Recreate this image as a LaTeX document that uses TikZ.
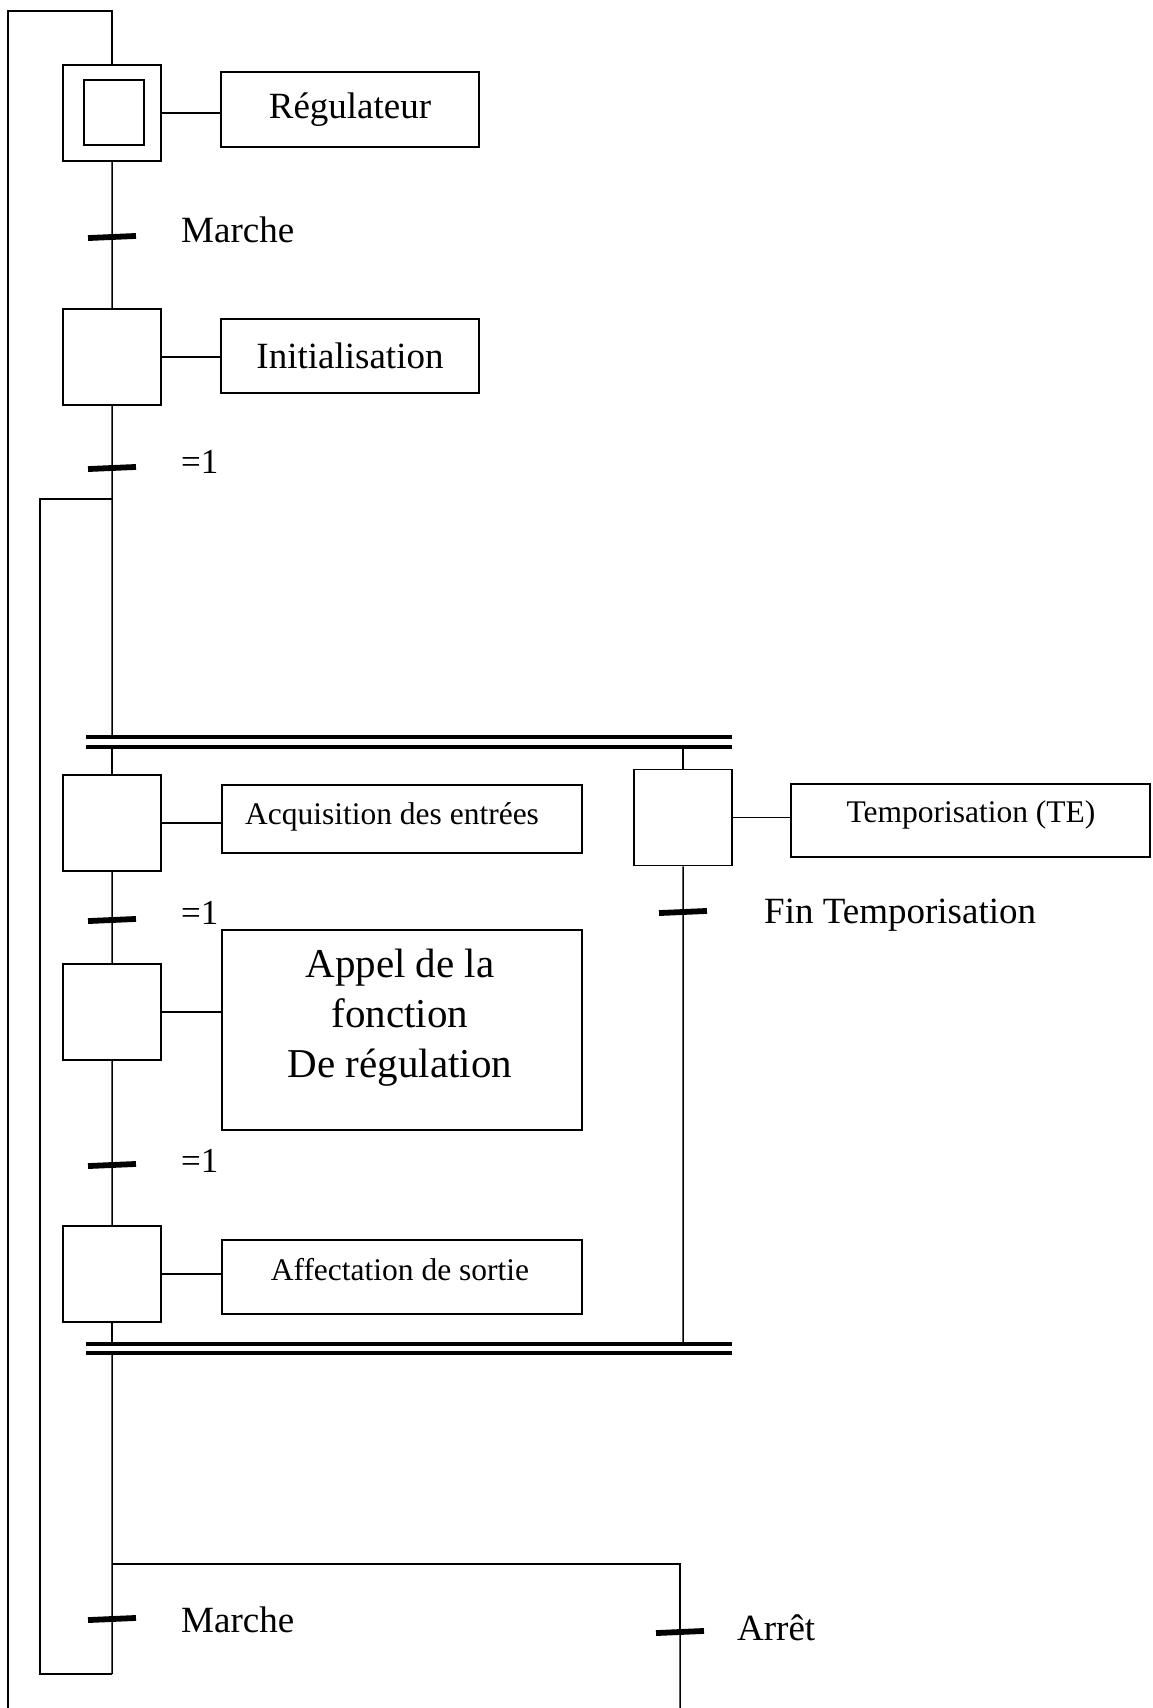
\documentclass[tikz,border=0pt]{standalone}
\usepackage{fontspec}
\setmainfont{Liberation Serif}
\begin{document}
\begin{tikzpicture}[x=1pt,y=-1pt,
  flow/.style={line width=1.5pt},
  stepbox/.style={draw, line width=1.8pt, minimum width=98pt, minimum height=96pt, inner sep=0pt},
  actbox/.style={draw, line width=1.8pt, inner sep=0pt},
  tickmark/.style={fill=black, minimum width=48pt, minimum height=5.8pt, inner sep=0pt, rotate=2.5},
  bar/.style={line width=4pt},
  lblbig/.style={font=\fontsize{37}{44}\selectfont, inner sep=0pt},
  lbleq/.style={font=\fontsize{35}{42}\selectfont, inner sep=0pt},
  lblmid/.style={font=\fontsize{31.5}{38}\selectfont, inner sep=0pt},
  lblappel/.style={font=\fontsize{41}{50}\selectfont, inner sep=0pt, align=center}
]
\useasboundingbox (0,0) rectangle (1152,1708);

% steps
\node[stepbox] (s0) at (112,113) {};
\node[draw, line width=1.8pt, minimum width=60pt, minimum height=65pt, inner sep=0pt] (s0in) at (114,112.5) {};
\node[stepbox] (s1) at (112,357) {};
\node[stepbox] (s2) at (112,823) {};
\node[stepbox] (s3) at (112,1012) {};
\node[stepbox] (s4) at (112,1274) {};
\node[stepbox] (s5) at (683,817.5) {};

% actions
\node[actbox, minimum width=258pt, minimum height=75pt, lblbig] (a0) at (350,109.5) {Régulateur};
\node[actbox, minimum width=258pt, minimum height=74pt, lblbig] (a1) at (350,356) {Initialisation};
\node[actbox, minimum width=360pt, minimum height=68pt] (a2) at (402,819) {};
\node[lblmid] (a2t) at (392,817) {Acquisition des entrées};
\node[actbox, minimum width=360pt, minimum height=200pt] (a3) at (402,1030) {};
\node[lblappel] (a3t) at (400,1018) {Appel de la\\fonction\\De régulation};
\node[actbox, minimum width=360pt, minimum height=74pt] (a4) at (402,1277) {};
\node[lblmid] (a4t) at (400,1270) {Affectation de sortie};
\node[actbox, minimum width=359pt, minimum height=73pt] (a5) at (970.5,820.5) {};
\node[lblmid] (a5t) at (971,815) {Temporisation (TE)};

% step-to-action links
\foreach \s/\a in {s0/a0, s1/a1, s2/a2, s3/a3, s4/a4, s5/a5}
  \draw[flow] (\s.east) -- (\s.east -| \a.west);

% transitions
\node[tickmark] (t0) at (112,237) {};
\node[tickmark] (t1) at (112,468) {};
\node[tickmark] (t2) at (112,920) {};
\node[tickmark] (t3) at (112,1165) {};
\node[tickmark] (t4) at (683,912) {};
\node[tickmark] (t5) at (112,1619) {};
\node[tickmark] (t6) at (680,1632) {};

% transition conditions
\node[lblbig, anchor=base west] (c0) at (181,242) {Marche};
\node[lbleq, anchor=base west] (c1) at (181,473) {=1};
\node[lbleq, anchor=base west] (c2) at (181,924) {=1};
\node[lbleq, anchor=base west] (c3) at (181,1172) {=1};
\node[lblbig, anchor=base west] (c4) at (764,923) {Fin Temporisation};
\node[lblbig, anchor=base west] (c5) at (181,1632) {Marche};
\node[lblbig, anchor=base west] (c6) at (737,1640) {Arrêt};

% parallel divergence / convergence bars
\coordinate (B1L) at (86,737);  \coordinate (B1R) at (732,737);
\coordinate (B2L) at (86,747);  \coordinate (B2R) at (732,747);
\coordinate (B3L) at (86,1344); \coordinate (B3R) at (732,1344);
\coordinate (B4L) at (86,1353); \coordinate (B4R) at (732,1353);
\draw[bar] (B1L) -- (B1R);
\draw[bar] (B2L) -- (B2R);
\draw[bar] (B3L) -- (B3R);
\draw[bar] (B4L) -- (B4R);

% junctions of the loops
\coordinate (j1) at (112,499);
\coordinate (j2) at (112,1674);
\coordinate (j3) at (112,1564);
\coordinate (topleft) at (8,11);
\coordinate (outerend) at (8,1708);
\coordinate (stopend) at (680,1708);

% main sequence
\draw[flow] (s0.south) -- (t0) -- (s1.north);
\draw[flow] (s1.south) -- (t1) -- (s1.south |- B1L);
\draw[flow] (s2.north |- B2L) -- (s2.north);
\draw[flow] (s5.north |- B2L) -- (s5.north);
\draw[flow] (s2.south) -- (t2) -- (s3.north);
\draw[flow] (s3.south) -- (t3) -- (s4.north);
\draw[flow] (s4.south) -- (s4.south |- B3L);
\draw[flow] (s5.south) -- (t4) -- (t4 |- B3L);
\draw[flow] (s4.south |- B4L) -- (t5) -- (j2);

% loop back after "Marche"
\draw[flow] (j2) -- ++(-72,0) |- (j1);

% branch towards "Arrêt"
\draw[flow] (j3) -| (t6);
\draw[flow] (t6) -- (stopend);

% outer return line
\draw[flow] (s0.north) |- (topleft) -- (outerend);
\end{tikzpicture}
\end{document}
